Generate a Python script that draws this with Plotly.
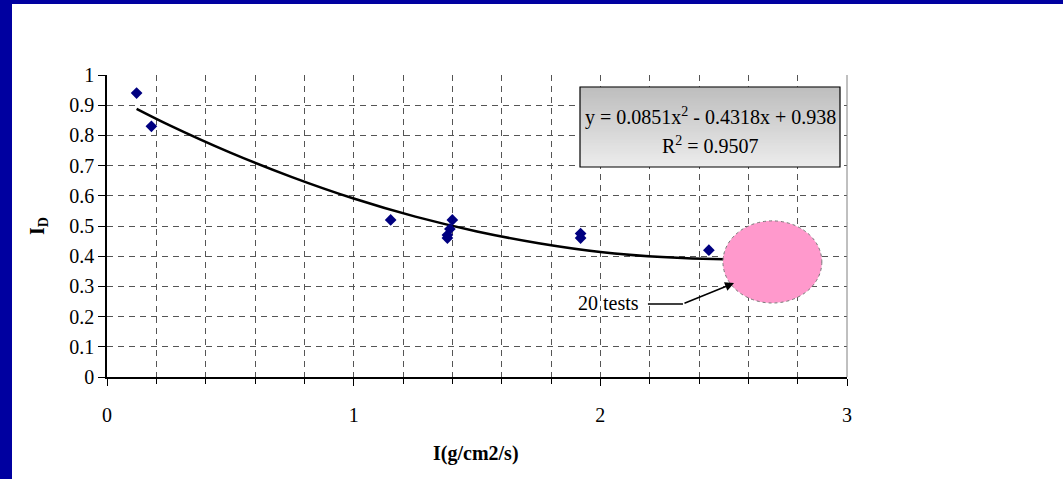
import plotly.graph_objects as go

# ---- data ----
x_pts = [0.12, 0.18, 1.15, 1.40, 1.39, 1.38, 1.38, 1.92, 1.92, 2.44]
y_pts = [0.94, 0.83, 0.52, 0.52, 0.49, 0.47, 0.46, 0.475, 0.46, 0.42]

trend_x = [0.12, 0.25, 0.5, 0.75, 1.0, 1.25, 1.5, 1.75, 2.0, 2.25, 2.5, 2.7]
trend_y = [0.888, 0.835, 0.743, 0.662, 0.591, 0.531, 0.482, 0.443, 0.414, 0.397, 0.390, 0.392]

x_tickvals = [0, 1, 2, 3]
x_ticktext = ["0", "1", "2", "3"]
y_tickvals = [0, 0.1, 0.2, 0.3, 0.4, 0.5, 0.6, 0.7, 0.8, 0.9, 1.0]
y_ticktext = ["0", "0.1", "0.2", "0.3", "0.4", "0.5", "0.6", "0.7", "0.8", "0.9", "1"]

eq_line1 = "y = 0.0851x<sup>2</sup> - 0.4318x + 0.938"
eq_line2 = "R<sup>2</sup> = 0.9507"
note_text = "20 tests"
x_title = "<b>I(g/cm2/s)</b>"
y_title = "<b>I<sub>D</sub></b>"

FONT = "Liberation Serif"
W, H = 1063, 479
L, R, T, B = 107, 847, 75, 377


def px(p):
    return (p - L) / (R - L)


def py(p):
    return (B - p) / (B - T)


fig = go.Figure()

fig.add_trace(go.Scatter(
    x=trend_x, y=trend_y, mode="lines",
    line=dict(color="black", width=2.5, shape="spline"),
    hoverinfo="skip", showlegend=False))

fig.add_trace(go.Scatter(
    x=x_pts, y=y_pts, mode="markers",
    marker=dict(symbol="diamond", size=9, color="#000080"),
    showlegend=False))

shapes = []
# blue frame
shapes.append(dict(type="rect", xref="paper", yref="paper",
                   x0=px(0), x1=px(12), y0=py(H + 2), y1=py(-2),
                   fillcolor="#0000A0", line=dict(width=0), layer="above"))
shapes.append(dict(type="rect", xref="paper", yref="paper",
                   x0=px(0), x1=px(W + 2), y0=py(4), y1=py(-2),
                   fillcolor="#0000A0", line=dict(width=0), layer="above"))
# right border of plot area
shapes.append(dict(type="line", xref="paper", yref="paper",
                   x0=1, x1=1, y0=0, y1=1,
                   line=dict(color="#808080", width=1)))

# gradient equation box
bx0, bx1, by0, by1 = 580, 840, 87, 167
n = 40
c_top = (190, 190, 190)
c_bot = (236, 236, 236)
for i in range(n):
    t = i / (n - 1)
    c = tuple(int(c_top[k] + (c_bot[k] - c_top[k]) * t) for k in range(3))
    y_a = by0 + (by1 - by0) * i / n
    y_b = by0 + (by1 - by0) * (i + 1) / n
    shapes.append(dict(type="rect", xref="paper", yref="paper",
                       x0=px(bx0), x1=px(bx1), y0=py(y_b), y1=py(y_a) + 0.001,
                       fillcolor="rgb(%d,%d,%d)" % c, line=dict(width=0)))
shapes.append(dict(type="rect", xref="paper", yref="paper",
                   x0=px(bx0), x1=px(bx1), y0=py(by1), y1=py(by0),
                   fillcolor="rgba(0,0,0,0)", line=dict(color="black", width=1.2)))

# pink ellipse
shapes.append(dict(type="circle", xref="x", yref="y",
                   x0=2.497, x1=2.898, y0=0.245, y1=0.517,
                   fillcolor="#FF99CC",
                   line=dict(color="#777777", width=1, dash="dot")))
# leader line from text
shapes.append(dict(type="line", xref="x", yref="y",
                   x0=2.193, x1=2.335, y0=0.242, y1=0.242,
                   line=dict(color="black", width=1.5)))


def txt(xp, yp, text, **kw):
    d = dict(x=px(xp), y=py(yp), xref="paper", yref="paper", text=text,
             xanchor="center", yanchor="middle", showarrow=False,
             font=dict(family=FONT, size=20, color="black"))
    d.update(kw)
    return d


annotations = [
    dict(x=2.542, y=0.311, ax=2.335, ay=0.242, xref="x", yref="y",
         axref="x", ayref="y", text="", showarrow=True,
         arrowhead=2, arrowsize=1.2, arrowwidth=1.5, arrowcolor="black"),
    txt(608, 303, note_text),
    txt(710, 116, eq_line1),
    txt(710, 145, eq_line2),
    txt(476, 453, x_title),
    txt(38, 226, y_title, textangle=-90),
]

fig.update_layout(
    width=W, height=H,
    margin=dict(l=L, r=W - R, t=T, b=H - B, pad=0),
    paper_bgcolor="white", plot_bgcolor="white",
    font=dict(family=FONT, size=20, color="black"),
    shapes=shapes, annotations=annotations,
    showlegend=False,
)

fig.update_xaxes(
    range=[0, 3], tickvals=x_tickvals, ticktext=x_ticktext,
    showgrid=True, gridcolor="#555555", griddash="6px,5px", gridwidth=1,
    showline=True, linecolor="black", linewidth=1.5,
    ticks="outside", ticklen=7, tickcolor="black", tickwidth=1,
    ticklabelstandoff=12, zeroline=False,
    minor=dict(dtick=0.2, tick0=0, showgrid=True, gridcolor="#555555",
               griddash="6px,5px", gridwidth=1, ticks="outside", ticklen=5,
               tickcolor="black", tickwidth=1),
    tickfont=dict(family=FONT, size=20, color="black"),
)
fig.update_yaxes(
    range=[0, 1], tickvals=y_tickvals, ticktext=y_ticktext,
    showgrid=True, gridcolor="#555555", griddash="6px,5px", gridwidth=1,
    showline=True, linecolor="black", linewidth=1.5,
    ticks="outside", ticklen=7, tickcolor="black", tickwidth=1,
    zeroline=False,
    tickfont=dict(family=FONT, size=20, color="black"),
)

fig.write_html("out.html")
